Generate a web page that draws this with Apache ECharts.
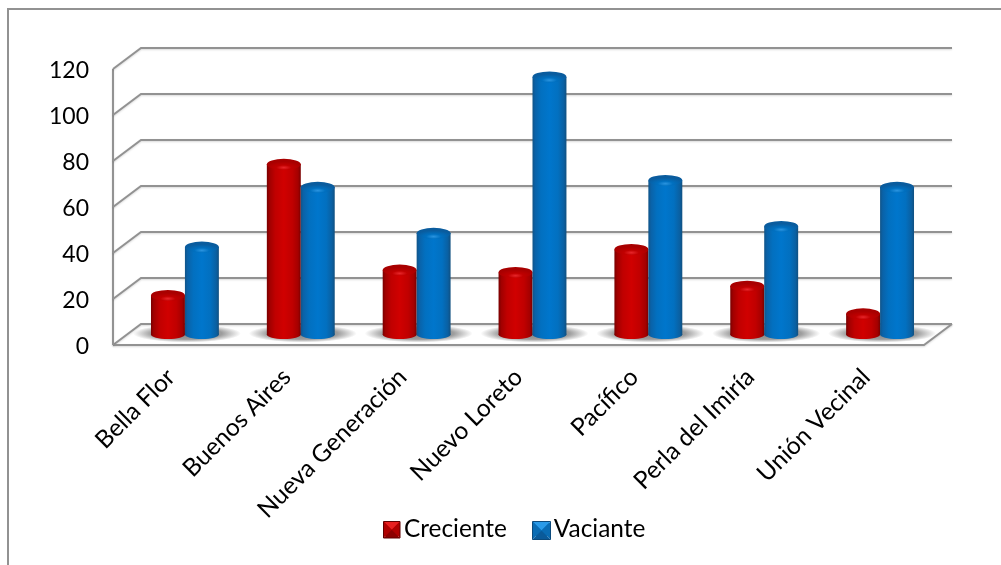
<!DOCTYPE html>
<html>
<head>
<meta charset="utf-8">
<style>html,body{margin:0;padding:0;background:#fff}#chart{width:1001px;height:565px}</style>
<script src="https://cdn.jsdelivr.net/npm/echarts@6/dist/echarts.min.js"></script>
</head>
<body>
<div id="chart"></div>
<script>
// Communities along the river, counted in the rising and the low water season
const categories = ['Bella Flor', 'Buenos Aires', 'Nueva Generación', 'Nuevo Loreto', 'Pacífico', 'Perla del Imiría', 'Unión Vecinal'];
const creciente = [17, 74, 28, 27, 37, 21, 9];
const vaciante = [38, 64, 44, 112, 67, 47, 64];
const yTicks = [0, 20, 40, 60, 80, 100, 120];

const FONT = 'Lato, "Open Sans", sans-serif';
const LINE = '#929292';
const DEPTH_X = 28, DEPTH_Y = 21;      // perspective shift of the back wall

const lineStyle = {
  stroke: LINE, lineWidth: 2, fill: null,
  shadowBlur: 2, shadowColor: 'rgba(0,0,0,0.15)', shadowOffsetY: 1
};

const hGrad = (stops) => ({
  type: 'linear', x: 0, y: 0, x2: 1, y2: 0,
  colorStops: stops.map(([offset, color]) => ({ offset, color }))
});

const palette = {
  red: {
    body: hGrad([[0, '#780000'], [0.08, '#a00000'], [0.25, '#c00000'], [0.5, '#d00000'], [0.75, '#c00000'], [0.92, '#a40000'], [1, '#780000']]),
    capEdge: '#a80000', capMid: '#c00000', capGlow: '#e8262a'
  },
  blue: {
    body: hGrad([[0, '#115488'], [0.08, '#0a62a8'], [0.25, '#0270c0'], [0.5, '#0076cc'], [0.75, '#0270c0'], [0.92, '#0a60a2'], [1, '#115080']]),
    capEdge: '#0a5c9e', capMid: '#0070c0', capGlow: '#2a94e0'
  }
};

// Cylinder for one bar, placed half way along the floor depth
function cylinder(side, colors) {
  return function (params, api) {
    const idx = api.value(0);
    const top = api.coord([idx, api.value(1)]);
    const base = api.coord([idx, 0]);
    const band = api.size([1, 0])[0];
    const w = band * 0.293;
    const cx = top[0] + DEPTH_X / 2 + side * w / 2;
    const yTop = top[1] - DEPTH_Y / 2;
    const yBase = base[1] - DEPTH_Y / 2;
    const rx = w / 2, ry = 5.5;
    return {
      type: 'group',
      children: [
        { type: 'ellipse', shape: { cx, cy: yBase, rx, ry: ry - 1 }, style: { fill: colors.body } },
        { type: 'rect', shape: { x: cx - rx, y: yTop, width: w, height: yBase - yTop }, style: { fill: colors.body } },
        {
          // circle squashed into the cap, so its radial glow flattens with it
          type: 'circle', x: cx, y: yTop, scaleY: ry / rx,
          shape: { cx: 0, cy: 0, r: rx },
          style: {
            fill: {
              type: 'radial', x: 0.5, y: 0.8, r: 0.55,
              colorStops: [
                { offset: 0, color: colors.capGlow },
                { offset: 0.4, color: colors.capMid },
                { offset: 1, color: colors.capEdge }
              ]
            }
          }
        }
      ]
    };
  };
}

// Soft pool of shade on the floor under each pair of bars
function floorShade(params, api) {
  const idx = api.value(0);
  const base = api.coord([idx, 0]);
  const r = 54;
  return {
    type: 'circle',
    x: base[0] + DEPTH_X / 2 + 2,
    y: base[1] - DEPTH_Y / 2 - 1,
    scaleY: 9 / r,
    shape: { cx: 0, cy: 0, r },
    style: {
      fill: {
        type: 'radial', x: 0.5, y: 0.5, r: 0.5,
        colorStops: [
          { offset: 0, color: 'rgba(60,60,60,0.65)' },
          { offset: 0.65, color: 'rgba(60,60,60,0.5)' },
          { offset: 1, color: 'rgba(60,60,60,0)' }
        ]
      }
    }
  };
}

// Back wall gridline and its slanted return to the value axis
function wallLine(params, api) {
  const value = api.value(0);
  const sys = params.coordSys;
  const y = api.coord([0, value])[1];
  const xL = sys.x, xR = sys.x + sys.width;
  const children = [
    { type: 'polyline', shape: { points: [[xL, y], [xL + DEPTH_X, y - DEPTH_Y], [xR + DEPTH_X, y - DEPTH_Y]] }, style: lineStyle }
  ];
  if (value === 0) {
    children.push({ type: 'polyline', shape: { points: [[xL, y], [xR, y], [xR + DEPTH_X, y - DEPTH_Y]] }, style: lineStyle });
    const yMax = api.coord([0, yTicks[yTicks.length - 1]])[1];
    children.push({ type: 'line', shape: { x1: xL, y1: y, x2: xL, y2: yMax }, style: lineStyle });
  }
  return { type: 'group', children };
}

// Raised square key laid over a legend swatch
function legendKey(x, y, s, light, mid, dark, darker) {
  const c = [x + s / 2, y + s / 2];
  const face = (pts, fill) => ({ type: 'polygon', shape: { points: pts }, style: { fill }, z: 50 });
  return [
    face([[x, y], [x + s, y], c], light),
    face([[x, y], c, [x, y + s]], mid),
    face([[x + s, y], [x + s, y + s], c], mid),
    face([[x, y + s], [x + s, y + s], c], dark),
    { type: 'rect', shape: { x, y, width: s, height: s }, style: { fill: null, stroke: darker, lineWidth: 1 }, z: 51 }
  ];
}

const chart = echarts.init(document.getElementById('chart'), null, { renderer: 'canvas' });
chart.setOption({
  animation: false,
  backgroundColor: '#ffffff',
  grid: { left: 113, top: 69, width: 811, height: 276 },
  xAxis: {
    type: 'category',
    data: categories,
    axisTick: { show: false },
    axisLine: { show: false },
    axisLabel: { rotate: 45, interval: 0, margin: 28, fontFamily: FONT, fontSize: 24.5, color: '#000' }
  },
  yAxis: {
    type: 'value',
    min: 0, max: 120, interval: 20,
    axisLine: { show: false },
    axisTick: { show: false },
    splitLine: { show: false },
    axisLabel: {
      margin: 24,
      formatter: '{t|{value}}',
      rich: { t: { padding: [3, 0, 0, 0], fontFamily: FONT, fontSize: 23, color: '#000' } }
    }
  },
  legend: {
    left: 383, top: 517, padding: 0,
    itemWidth: 16, itemHeight: 14, itemGap: 26,
    icon: 'rect',
    textStyle: { fontFamily: FONT, fontSize: 24.4, color: '#000' },
    data: ['Creciente', 'Vaciante']
  },
  graphic: [
    { type: 'polyline', shape: { points: [[8, 565], [8, 9], [1001, 9]] }, style: { stroke: LINE, lineWidth: 2, fill: null } },
    ...legendKey(383.5, 521.5, 16.5, '#e82020', '#b00000', '#8c0000', '#600000'),
    ...legendKey(532.5, 521.5, 18, '#2a9ae8', '#0a6cb4', '#0a5a9a', '#0c4a7c')
  ],
  series: [
    {
      type: 'custom', silent: true, coordinateSystem: 'cartesian2d', z: 1,
      data: yTicks.map(v => [v]),
      encode: { y: 0 },
      renderItem: wallLine
    },
    {
      type: 'custom', silent: true, z: 2,
      data: categories.map((c, i) => [i]),
      encode: { x: 0 },
      renderItem: floorShade
    },
    {
      name: 'Creciente', type: 'custom', silent: true, z: 3,
      itemStyle: { color: '#c00000' },
      data: creciente.map((v, i) => [i, v]),
      encode: { x: 0, y: 1 },
      renderItem: cylinder(-1, palette.red)
    },
    {
      name: 'Vaciante', type: 'custom', silent: true, z: 4,
      itemStyle: { color: '#0070c0' },
      data: vaciante.map((v, i) => [i, v]),
      encode: { x: 0, y: 1 },
      renderItem: cylinder(1, palette.blue)
    }
  ]
});
</script>
</body>
</html>
